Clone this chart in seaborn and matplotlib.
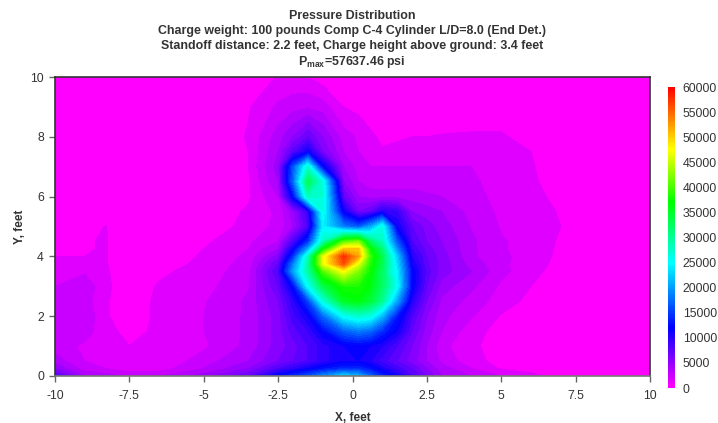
import numpy as np
import matplotlib
matplotlib.use("Agg")
import matplotlib.pyplot as plt
from matplotlib.cm import ScalarMappable
from matplotlib.colors import ListedColormap, Normalize
import seaborn as sns

# Pressure, thousands of psi, rows by height (feet)
x_ft = [-10, -9, -8.3, -7.5, -6.5, -5, -3.5, -2.5, -2, -1.5, -1, -0.3, 0.2, 0.6, 1, 1.5, 2, 2.5, 3, 4, 5, 6, 7.5, 10]
y_ft = [0, 0.25, 0.5, 1, 1.5, 2, 2.5, 3, 3.5, 3.75, 4, 4.25, 4.5, 5, 5.5, 6, 6.5, 7, 7.5, 8, 9, 10]

p_y000 = [8, 4, 3.5, 2.8, 3, 4.5, 7, 12, 14, 16, 19, 23, 21, 17, 13.5, 11, 8, 6, 4, 3, 2, 1.3, 0.3, 0]
p_y025 = [5, 2.5, 2, 1.4, 1.5, 3, 5, 8, 9.5, 11, 12.5, 14, 14, 12.5, 10.5, 8.5, 7, 5, 3.5, 2, 0.9, 0.6, 0.1, 0]
p_y050 = [3.5, 2, 1.5, 1.2, 1.2, 2.5, 4, 6, 7, 8, 9.5, 11, 11, 10, 8.5, 7, 5.5, 4, 2.8, 1.3, 0.7, 0.3, 0, 0]
p_y100 = [2.5, 1.8, 1.2, 1, 1.3, 1.8, 3.3, 5.5, 6.5, 8, 9.5, 11, 11.5, 11, 10, 8, 6, 4, 2.3, 1.2, 0.5, 0.1, 0, 0]
p_y150 = [2, 2.5, 1.3, 0.7, 1.2, 2, 3.2, 5.5, 7.5, 9, 12, 16.5, 18, 17, 14, 11, 7, 4.5, 3, 1.4, 0.6, 0.2, 0, 0]
p_y200 = [2, 2.8, 1.1, 0.5, 1.2, 2, 3.2, 5.5, 8.5, 11, 17, 25, 27, 26, 21, 13, 8, 5, 3.3, 2.1, 0.9, 0.4, 0, 0]
p_y250 = [2, 2.5, 1.1, 0.5, 1.2, 1.9, 3.2, 6, 9.5, 15, 26, 35, 36, 34, 30, 20, 10, 6, 3.8, 2.6, 1.5, 0.7, 0, 0]
p_y300 = [2, 2.8, 1.2, 0.4, 1.1, 1.6, 2.9, 7, 12, 25, 33, 38, 38, 36, 32, 25, 12, 7, 4.5, 3.2, 1.8, 1, 0.1, 0]
p_y350 = [1.2, 1.8, 1.2, 0, 0.8, 1.4, 2.6, 8, 20, 29, 40, 47, 42, 37, 32, 24, 12, 7.5, 5.5, 4, 2.3, 1.3, 0.2, 0]
p_y375 = [1.1, 1.4, 1.1, 0, 0.4, 1.3, 2.4, 7, 18, 29, 46, 56, 46, 38, 33, 23, 11, 7.2, 5.5, 3.6, 2.2, 1.5, 0.2, 0]
p_y400 = [1, 1, 1.1, 0, 0, 1.2, 2.2, 5.5, 14, 28, 46, 57.6, 52, 39, 33, 22, 10, 7, 5.5, 3.2, 2.2, 1.6, 0.3, 0]
p_y425 = [0.8, 0.9, 1.1, 0, 0, 1, 2, 4, 11, 20, 36, 50, 50, 37, 31, 19, 9, 6.5, 5.2, 3.2, 2.1, 1.6, 0.4, 0]
p_y450 = [0.6, 0.9, 1.1, 0, 0, 0.8, 1.8, 3, 8, 14, 28, 40, 42, 32, 28, 16, 8, 6, 5, 3.2, 2.1, 1.6, 0.5, 0]
p_y500 = [0, 0.3, 1.05, 0, 0, 0, 1.5, 2.2, 4, 8, 24, 18, 16, 20, 26, 11, 7, 5.5, 4.5, 2.9, 1.9, 1.6, 0.7, 0]
p_y550 = [0, 0, 0, 0, 0, 0, 1.2, 2.2, 4.5, 9, 26, 11, 6, 7, 10, 9, 5, 4.5, 4, 2.6, 1.8, 1.5, 0.6, 0]
p_y600 = [0, 0, 0, 0, 0, 0, 0.8, 3, 12, 28, 27, 7, 4, 3.5, 3.5, 3.5, 3.5, 3.2, 3, 2.3, 1.7, 1.4, 0.2, 0]
p_y650 = [0, 0, 0, 0, 0, 0, 0.8, 4, 17, 33, 26, 5, 3, 2.5, 2.5, 2.5, 2.5, 2.4, 2.3, 2.2, 1.5, 1.2, 0, 0]
p_y700 = [0, 0, 0, 0, 0, 0, 1, 4.5, 16, 27, 12, 4, 2.5, 2, 2, 2, 2, 2, 2, 2, 1.4, 1.1, 0, 0]
p_y750 = [0, 0, 0, 0, 0, 0, 1, 4, 7.5, 11, 6, 3, 2, 1.2, 1.1, 1.2, 1.3, 1.3, 1.4, 1.5, 1.3, 1, 0, 0]
p_y800 = [0, 0, 0, 0, 0, 0, 1.1, 3.5, 5, 7, 5, 2.5, 1.8, 1.2, 0.8, 0.9, 1, 1, 1.1, 1.2, 1.2, 0.4, 0, 0]
p_y900 = [0, 0, 0, 0, 0, 0, 0.9, 2.2, 2.6, 2.8, 2.5, 1, 0.7, 0.4, 0.2, 0.2, 0.1, 0, 0, 0, 0, 0, 0, 0]
p_y1000 = [0, 0, 0, 0, 0, 0, 0, 1.1, 1.2, 1, 0.4, 0, 0, 0, 0, 0, 0, 0, 0, 0, 0, 0, 0, 0]

rows = [p_y000, p_y025, p_y050, p_y100, p_y150, p_y200, p_y250, p_y300, p_y350, p_y375, p_y400,
        p_y425, p_y450, p_y500, p_y550, p_y600, p_y650, p_y700, p_y750, p_y800, p_y900, p_y1000]
pressure = np.array(rows) * 1000.0

x_ticks = [-10, -7.5, -5, -2.5, 0, 2.5, 5, 7.5, 10]
x_labels = ["-10", "-7.5", "-5", "-2.5", "0", "2.5", "5", "7.5", "10"]
y_ticks = [0, 2, 4, 6, 8, 10]
bar_ticks = list(range(0, 60001, 5000))
title_lines = ["Pressure Distribution",
               "Charge weight: 100 pounds Comp C-4 Cylinder L/D=8.0 (End Det.)",
               "Standoff distance: 2.2 feet, Charge height above ground: 3.4 feet",
               "P$_{\\mathrm{max}}$=57637.46 psi"]

sns.set_theme(style="white", rc={"font.family": ["Liberation Sans", "DejaVu Sans"],
                                 "mathtext.fontset": "custom",
                                 "mathtext.rm": "Liberation Sans:bold"})
ink = "#333333"

seg = [("#ff00ff", "#0000ff", 48), ("#0000ff", "#00ffff", 52), ("#00ffff", "#00ff00", 48),
       ("#00ff00", "#ffff00", 42), ("#ffff00", "#ff0000", 50)]
cols = []
for a, b, n in seg:
    cols.extend(sns.blend_palette([a, b], n))
cmap = ListedColormap(cols)
norm = Normalize(0, 60000)

fig = plt.figure(figsize=(7.18, 4.23), dpi=100)
W, H = 718.0, 423.0
ax = fig.add_axes([55 / W, 1 - 376 / H, 595 / W, 299 / H])
levels = [-1000] + list(range(1000, 60001, 1000))
cf = ax.contourf(x_ft, y_ft, pressure, levels=levels, cmap=cmap, norm=norm)

ax.set_xlim(-10, 10)
ax.set_ylim(0, 10)
ax.set_xticks(x_ticks, x_labels)
ax.set_yticks(y_ticks)
ax.tick_params(direction="out", length=4, width=1, color="#666666", labelsize=8.8,
               labelcolor=ink, pad=6, bottom=True, left=True)
ax.tick_params(axis="y", pad=4)
ax.set_xlabel("X, feet", fontsize=8.5, fontweight="bold", color=ink, labelpad=7)
ax.set_ylabel("Y, feet", fontsize=8.5, fontweight="bold", color=ink, labelpad=3)
for side, s in ax.spines.items():
    s.set_color("#333333")
    s.set_linewidth(1.2)
ax.spines["bottom"].set_color("#777777")

for text, py in zip(title_lines, [16, 31, 46, 62]):
    fig.text(0.49, 1 - py / H, text, ha="center", va="center", fontsize=8.9,
             fontweight="bold", color=ink)

cax = fig.add_axes([668 / W, 1 - 388 / H, 6.5 / W, 301 / H])
cb = fig.colorbar(ScalarMappable(norm=norm, cmap=cmap), cax=cax, ticks=bar_ticks)
cb.outline.set_visible(False)
cb.ax.tick_params(length=0, labelsize=8.8, labelcolor=ink, pad=6)

fig.savefig("out.png", dpi=100)
